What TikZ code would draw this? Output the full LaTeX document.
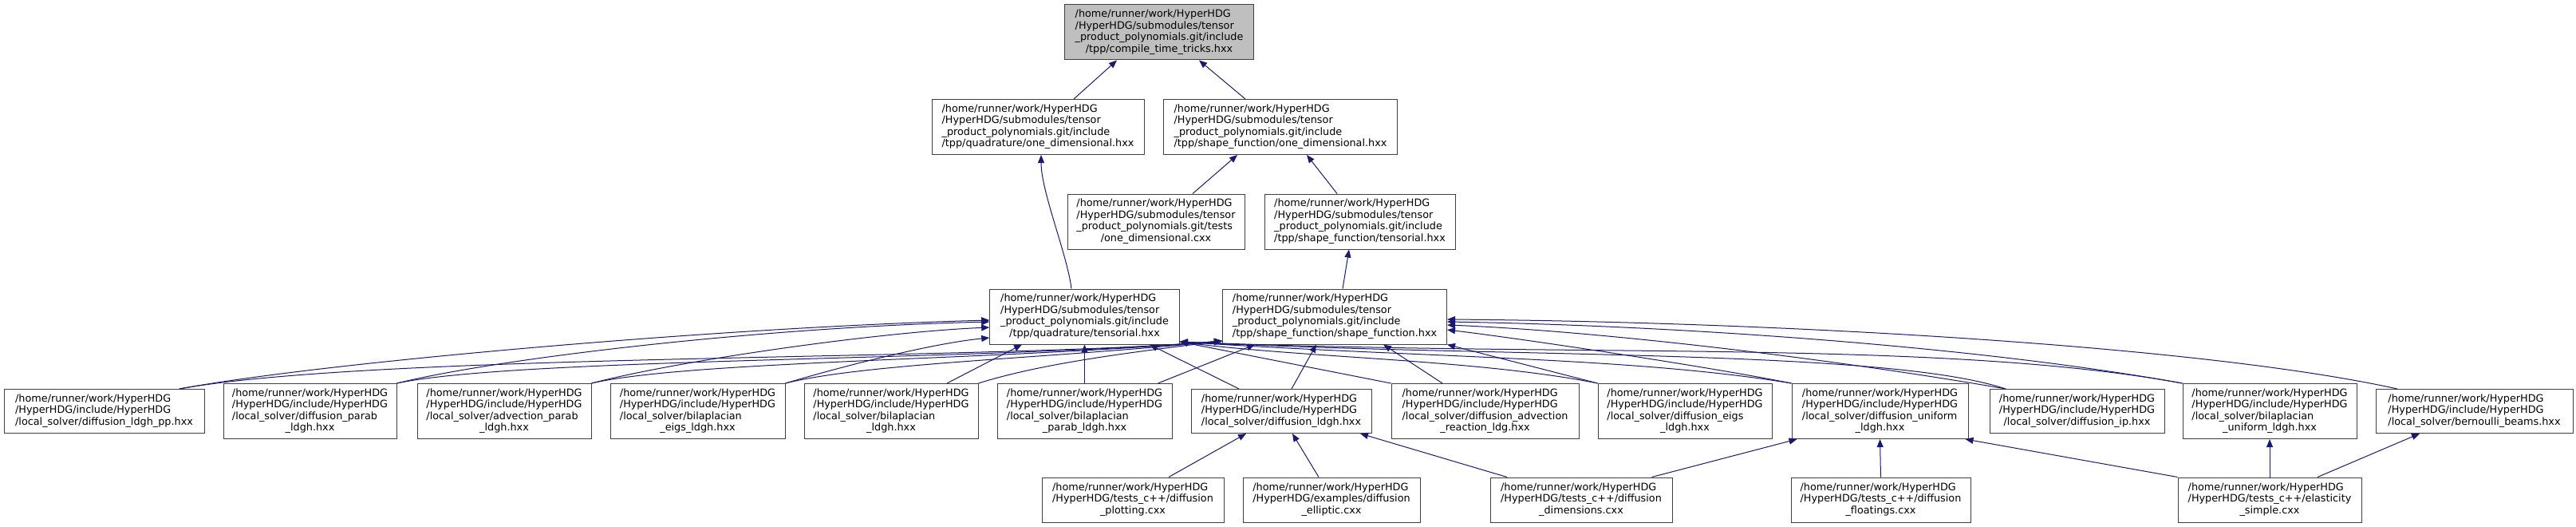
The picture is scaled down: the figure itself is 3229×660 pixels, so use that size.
\documentclass[tikz,border=0pt]{standalone}
\usepackage{fontspec}
\setmainfont{DejaVu Sans}
\usetikzlibrary{arrows.meta,calc}
\definecolor{edgeblue}{HTML}{191970}
\definecolor{nodeborder}{HTML}{404040}
\definecolor{rootfill}{HTML}{BFBFBF}
\newcommand\fl[1]{\begin{tabular}{@{}l@{}}#1\end{tabular}}
\newcommand\lc[1]{\multicolumn{1}{@{}c@{}}{#1}}
\tikzset{
  filebox/.style={draw=nodeborder, line width=0.75pt, fill=white, inner sep=0pt,
    font=\fontsize{9.6}{10.9}\selectfont},
  rootbox/.style={filebox, fill=rootfill},
  four/.style={minimum height=51.75pt},
  three/.style={minimum height=41.25pt},
  testbox/.style={minimum height=42pt},
  dep/.style={draw=edgeblue, line width=0.75pt, -{Triangle[length=7.5pt,width=6pt]}},
}
\begin{document}
\begin{tikzpicture}[x=0.75pt,y=-0.75pt]
\fill[white] (0,0) rectangle (3229,660);
\useasboundingbox (0,0) rectangle (3229,660);
% rank 0
\node[rootbox, four, minimum width=178.1pt] (top) at (1453,40.5)
 {\fl{/home/runner/work/HyperHDG\\/HyperHDG/submodules/tensor\\\_product\_polynomials.git/include\\\lc{/tpp/compile\_time\_tricks.hxx}}};
% rank 1
\node[filebox, four, minimum width=199.5pt] (quadOne) at (1301,159)
 {\fl{/home/runner/work/HyperHDG\\/HyperHDG/submodules/tensor\\\_product\_polynomials.git/include\\\lc{/tpp/quadrature/one\_dimensional.hxx}}};
\node[filebox, four, minimum width=219.75pt] (shapeOne) at (1605,159)
 {\fl{/home/runner/work/HyperHDG\\/HyperHDG/submodules/tensor\\\_product\_polynomials.git/include\\\lc{/tpp/shape\_function/one\_dimensional.hxx}}};
% rank 2
\node[filebox, four, minimum width=166.5pt] (testsOne) at (1449,277.5)
 {\fl{/home/runner/work/HyperHDG\\/HyperHDG/submodules/tensor\\\_product\_polynomials.git/tests\\\lc{/one\_dimensional.cxx}}};
\node[filebox, four, minimum width=179.25pt] (shapeTens) at (1704.5,277.5)
 {\fl{/home/runner/work/HyperHDG\\/HyperHDG/submodules/tensor\\\_product\_polynomials.git/include\\\lc{/tpp/shape\_function/tensorial.hxx}}};
% rank 3
\node[filebox, four, minimum width=178.2pt] (quadTens) at (1359.5,396.5)
 {\fl{/home/runner/work/HyperHDG\\/HyperHDG/submodules/tensor\\\_product\_polynomials.git/include\\\lc{/tpp/quadrature/tensorial.hxx}}};
\node[filebox, four, minimum width=210.75pt] (shapeFun) at (1673,396.5)
 {\fl{/home/runner/work/HyperHDG\\/HyperHDG/submodules/tensor\\\_product\_polynomials.git/include\\\lc{/tpp/shape\_function/shape\_function.hxx}}};
% rank 4
\node[filebox, three, minimum width=188.25pt] (ldghpp) at (130.5,515)
 {\fl{/home/runner/work/HyperHDG\\/HyperHDG/include/HyperHDG\\\lc{/local\_solver/diffusion\_ldgh\_pp.hxx}}};
\node[filebox, four, minimum width=162.75pt] (diffparab) at (388.5,515)
 {\fl{/home/runner/work/HyperHDG\\/HyperHDG/include/HyperHDG\\/local\_solver/diffusion\_parab\\\lc{\_ldgh.hxx}}};
\node[filebox, four, minimum width=163.5pt] (advparab) at (632,515)
 {\fl{/home/runner/work/HyperHDG\\/HyperHDG/include/HyperHDG\\/local\_solver/advection\_parab\\\lc{\_ldgh.hxx}}};
\node[filebox, four, minimum width=164.25pt] (bileigs) at (874.5,515)
 {\fl{/home/runner/work/HyperHDG\\/HyperHDG/include/HyperHDG\\/local\_solver/bilaplacian\\\lc{\_eigs\_ldgh.hxx}}};
\node[filebox, four, minimum width=163.5pt] (billdgh) at (1117,515)
 {\fl{/home/runner/work/HyperHDG\\/HyperHDG/include/HyperHDG\\/local\_solver/bilaplacian\\\lc{\_ldgh.hxx}}};
\node[filebox, four, minimum width=164.25pt] (bilparab) at (1359.5,515)
 {\fl{/home/runner/work/HyperHDG\\/HyperHDG/include/HyperHDG\\/local\_solver/bilaplacian\\\lc{\_parab\_ldgh.hxx}}};
\node[filebox, three, minimum width=169.5pt] (diffldgh) at (1606,515)
 {\fl{/home/runner/work/HyperHDG\\/HyperHDG/include/HyperHDG\\\lc{/local\_solver/diffusion\_ldgh.hxx}}};
\node[filebox, four, minimum width=176.25pt] (diffadv) at (1861.5,515)
 {\fl{/home/runner/work/HyperHDG\\/HyperHDG/include/HyperHDG\\/local\_solver/diffusion\_advection\\\lc{\_reaction\_ldg.hxx}}};
\node[filebox, four, minimum width=163.5pt] (diffeigs) at (2112,515)
 {\fl{/home/runner/work/HyperHDG\\/HyperHDG/include/HyperHDG\\/local\_solver/diffusion\_eigs\\\lc{\_ldgh.hxx}}};
\node[filebox, four, minimum width=165.75pt] (diffunif) at (2356.5,515)
 {\fl{/home/runner/work/HyperHDG\\/HyperHDG/include/HyperHDG\\/local\_solver/diffusion\_uniform\\\lc{\_ldgh.hxx}}};
\node[filebox, three, minimum width=164.25pt] (diffip) at (2603.5,515)
 {\fl{/home/runner/work/HyperHDG\\/HyperHDG/include/HyperHDG\\\lc{/local\_solver/diffusion\_ip.hxx}}};
\node[filebox, four, minimum width=163.5pt] (bilunif) at (2845,515)
 {\fl{/home/runner/work/HyperHDG\\/HyperHDG/include/HyperHDG\\/local\_solver/bilaplacian\\\lc{\_uniform\_ldgh.hxx}}};
\node[filebox, three, minimum width=185.25pt] (bernoulli) at (3101.5,515)
 {\fl{/home/runner/work/HyperHDG\\/HyperHDG/include/HyperHDG\\\lc{/local\_solver/bernoulli\_beams.hxx}}};
% rank 5
\node[filebox, testbox, minimum width=171pt] (plotting) at (1420,626)
 {\fl{/home/runner/work/HyperHDG\\/HyperHDG/tests\_c++/diffusion\\\lc{\_plotting.cxx}}};
\node[filebox, testbox, minimum width=166.5pt] (elliptic) at (1669,626)
 {\fl{/home/runner/work/HyperHDG\\/HyperHDG/examples/diffusion\\\lc{\_elliptic.cxx}}};
\node[filebox, testbox, minimum width=171pt] (dimensions) at (1982,626)
 {\fl{/home/runner/work/HyperHDG\\/HyperHDG/tests\_c++/diffusion\\\lc{\_dimensions.cxx}}};
\node[filebox, testbox, minimum width=168.75pt] (floatings) at (2357.5,626)
 {\fl{/home/runner/work/HyperHDG\\/HyperHDG/tests\_c++/diffusion\\\lc{\_floatings.cxx}}};
\node[filebox, testbox, minimum width=172.5pt] (elasticity) at (2845,626)
 {\fl{/home/runner/work/HyperHDG\\/HyperHDG/tests\_c++/elasticity\\\lc{\_simple.cxx}}};

% ---- upper edges
\draw[dep] ($(quadOne.north)+(45,0)$) -- ($(top.south)+(-53,0)$);
\draw[dep] ($(shapeOne.north)+(-44,0)$) -- ($(top.south)+(50,0)$);
\draw[dep] ($(testsOne.north)+(46,0)$) -- ($(shapeOne.south)+(-54,0)$);
\draw[dep] ($(shapeTens.north)+(-28.5,0)$) -- ($(shapeOne.south)+(33,0)$);
\draw[dep] ($(quadTens.north)+(-16.5,0)$) .. controls +(-5,-42) and +(0,46) .. ($(quadOne.south)+(4,0)$);
\draw[dep] ($(shapeFun.north)+(10,0)$) -- ($(shapeTens.south)+(-13.5,0)$);

% ---- rank 4 -> quadrature/tensorial
\draw[dep] ($(ldghpp.north)+(94.5,0)$) .. controls +(175,-32.5) and +(-340.7,9) .. ($(quadTens.west)+(0,4.5)$);
\draw[dep] (diffparab.north east) .. controls +(123,-30.5) and +(-290.7,7) .. ($(quadTens.west)+(0,6.5)$);
\draw[dep] (advparab.north east) .. controls +(109,-28.5) and +(-140.7,6) .. ($(quadTens.west)+(0,13.5)$);
\draw[dep] (bileigs.north east) .. controls +(76,-22.5) and +(-70.7,7) .. ($(quadTens.west)+(0,26.5)$);
\draw[dep] ($(billdgh.north)+(70,0)$) -- ($(quadTens.south)+(-78.5,0)$);
\draw[dep] (bilparab.north) -- (quadTens.south);
\draw[dep] ($(diffldgh.north)+(-53,0)$) -- ($(quadTens.south)+(81.5,0)$);
\draw[dep] (diffadv.north west) -- ($(quadTens.east)+(0,31.5)$);
\draw[dep] (diffeigs.north west) .. controls +(-150,-30) and +(150,20) .. ($(quadTens.east)+(0,31.5)$);
\draw[dep] (diffunif.north west) .. controls +(-200,-33) and +(300,20) .. ($(quadTens.east)+(0,31.5)$);
\draw[dep] ($(diffip.north)+(-89.5,0)$) .. controls +(-150,-50) and +(400,20) .. ($(quadTens.east)+(0,31.5)$);
\draw[dep] (bilunif.north west) .. controls +(-300,-55) and +(500,20) .. ($(quadTens.east)+(0,31.5)$);

% ---- rank 4 -> shape_function/shape_function
\draw[dep] ($(ldghpp.north)+(94.5,0)$) .. controls +(250,-45) and +(-300,25) .. ($(shapeFun.west)+(0,30.5)$);
\draw[dep] (diffparab.north east) .. controls +(150,-32) and +(-300,25) .. ($(shapeFun.west)+(0,30.5)$);
\draw[dep] (advparab.north east) .. controls +(120,-28) and +(-280,24) .. ($(shapeFun.west)+(0,30.5)$);
\draw[dep] (bileigs.north east) .. controls +(100,-25) and +(-220,22) .. ($(shapeFun.west)+(0,30.5)$);
\draw[dep] (billdgh.north east) .. controls +(80,-25) and +(-120,15) .. ($(shapeFun.west)+(0,30.5)$);
\draw[dep] ($(bilparab.north)+(92,0)$) -- ($(shapeFun.south)+(-100,0)$);
\draw[dep] ($(diffldgh.north)+(13,0)$) -- ($(shapeFun.south)+(-23,0)$);
\draw[dep] ($(diffadv.north)+(-53.5,0)$) -- ($(shapeFun.south)+(61,0)$);
\draw[dep] (diffeigs.north west) -- (shapeFun.south east);
\draw[dep] (diffunif.north west) .. controls +(-100,-20) and +(100,12) .. ($(shapeFun.east)+(0,16.5)$);
\draw[dep] ($(diffip.north)+(-89.5,0)$) .. controls +(-200,-35) and +(200,8) .. ($(shapeFun.east)+(0,10.5)$);
\draw[dep] (bilunif.north west) .. controls +(-250,-45) and +(300,5) .. ($(shapeFun.east)+(0,6.5)$);
\draw[dep] ($(bernoulli.north)+(-96.5,0)$) .. controls +(-250,-55) and +(400,3) .. ($(shapeFun.east)+(0,3.5)$);

% ---- rank 5 -> rank 4
\draw[dep] ($(plotting.north)+(45,0)$) -- ($(diffldgh.south)+(-44,0)$);
\draw[dep] ($(elliptic.north)+(-16,0)$) -- ($(diffldgh.south)+(14,0)$);
\draw[dep] ($(dimensions.north)+(-93,0)$) -- ($(diffldgh.south)+(99,0)$);
\draw[dep] ($(dimensions.north)+(88.5,0)$) -- ($(diffunif.south)+(-104,0)$);
\draw[dep] (floatings.north) -- (diffunif.south);
\draw[dep] (elasticity.north west) -- ($(diffunif.south east)+(-4,0)$);
\draw[dep] (elasticity.north) -- (bilunif.south);
\draw[dep] ($(elasticity.north)+(60,0)$) -- ($(bernoulli.south)+(-68.5,0)$);
\end{tikzpicture}
\end{document}
